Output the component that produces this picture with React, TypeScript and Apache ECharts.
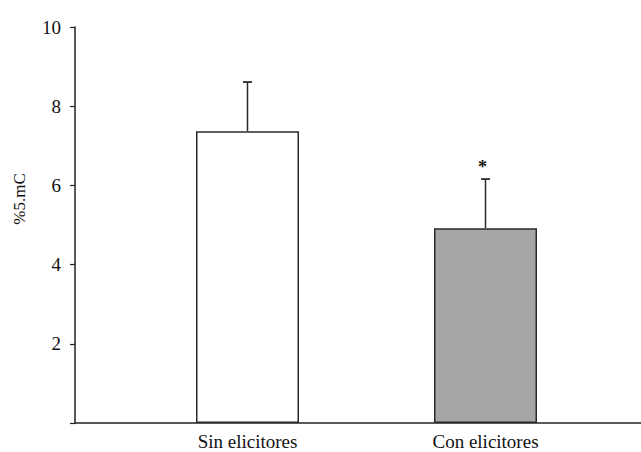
import React, { useEffect, useRef } from "react";
import * as echarts from "echarts";

const categories = ["Sin elicitores", "Con elicitores"];
const means = [7.37, 4.92];
const errors = [1.24, 1.24];
const significance = ["", "*"];
const barColors = ["#ffffff", "#a6a6a6"];
const yTicks = [0, 2, 4, 6, 8, 10];
const yAxisTitle = "%5.mC";

const FONT = "Liberation Serif, Times New Roman, serif";

export default function App() {
  const ref = useRef<HTMLDivElement>(null);
  useEffect(() => {
    if (!ref.current) return;
    const chart = echarts.init(ref.current, null, { renderer: "svg" });
    const top = 27;
    const bottom = 29;
    chart.setOption({
      animation: false,
      backgroundColor: "#ffffff",
      textStyle: { fontFamily: FONT },
      grid: [
        { left: 75, right: 0, top, bottom },
        { left: 128.5, width: 476, top, bottom },
      ],
      graphic: [
        {
          type: "text",
          x: 19,
          y: 199,
          rotation: Math.PI / 2,
          style: {
            text: yAxisTitle,
            fontFamily: FONT,
            fontSize: 17,
            fill: "#111111",
            align: "center",
            verticalAlign: "middle",
          },
        },
      ],
      xAxis: [
        {
          gridIndex: 0,
          type: "value",
          min: 0,
          max: 1,
          axisLine: { show: true, onZero: false, lineStyle: { color: "#222", width: 1.5 } },
          axisTick: { show: false },
          axisLabel: { show: false },
          splitLine: { show: false },
        },
        {
          gridIndex: 1,
          type: "category",
          data: categories,
          axisLine: { show: false },
          axisTick: { show: false },
          axisLabel: {
            color: "#111",
            fontFamily: FONT,
            fontSize: 19,
            margin: 9,
            textStyle: { fontFamily: FONT, fontSize: 19 },
          },
        },
      ],
      yAxis: [
        {
          gridIndex: 0,
          type: "value",
          min: yTicks[0],
          max: yTicks[yTicks.length - 1],
          interval: 2,
          axisLine: { show: true, lineStyle: { color: "#222", width: 1.5 } },
          axisTick: { show: true, length: 5, lineStyle: { color: "#222", width: 1.2 } },
          axisLabel: {
            color: "#111",
            fontFamily: FONT,
            fontSize: 19,
            margin: 14,
            textStyle: { fontFamily: FONT, fontSize: 19 },
            formatter: (v: number) => (v === 0 ? "" : String(v)),
          },
          splitLine: { show: false },
        },
        {
          gridIndex: 1,
          type: "value",
          min: yTicks[0],
          max: yTicks[yTicks.length - 1],
          interval: 2,
          show: false,
        },
      ],
      series: [
        {
          type: "bar",
          xAxisIndex: 1,
          yAxisIndex: 1,
          barWidth: 103,
          data: means.map((v, i) => ({
            value: v,
            itemStyle: { color: barColors[i], borderColor: "#2a2a2a", borderWidth: 1.5 },
          })),
          z: 2,
        },
        {
          type: "custom",
          xAxisIndex: 1,
          yAxisIndex: 1,
          z: 3,
          data: means.map((m, i) => [i, m, m + errors[i]]),
          renderItem: (params: any, api: any) => {
            const x = api.value(0);
            const base = api.coord([x, api.value(1)]);
            const topPt = api.coord([x, api.value(2)]);
            const sig = significance[params.dataIndex];
            const children: any[] = [
              {
                type: "line",
                shape: { x1: base[0], y1: base[1], x2: topPt[0], y2: topPt[1] },
                style: { stroke: "#2a2a2a", lineWidth: 1.5 },
              },
              {
                type: "line",
                shape: { x1: topPt[0] - 4.5, y1: topPt[1], x2: topPt[0] + 4.5, y2: topPt[1] },
                style: { stroke: "#2a2a2a", lineWidth: 1.8 },
              },
            ];
            if (sig) {
              children.push({
                type: "text",
                x: topPt[0] - 3,
                y: topPt[1] - 12,
                style: {
                  text: sig,
                  fontFamily: FONT,
                  fontSize: 18,
                  fontWeight: "bold",
                  fill: "#111",
                  align: "center",
                  verticalAlign: "middle",
                },
              });
            }
            return { type: "group", children };
          },
        },
      ],
    });
    return () => chart.dispose();
  }, []);
  return (
    <div
      ref={ref}
      style={{ position: "absolute", left: 0, top: 0, width: 641, height: 452 }}
    />
  );
}
